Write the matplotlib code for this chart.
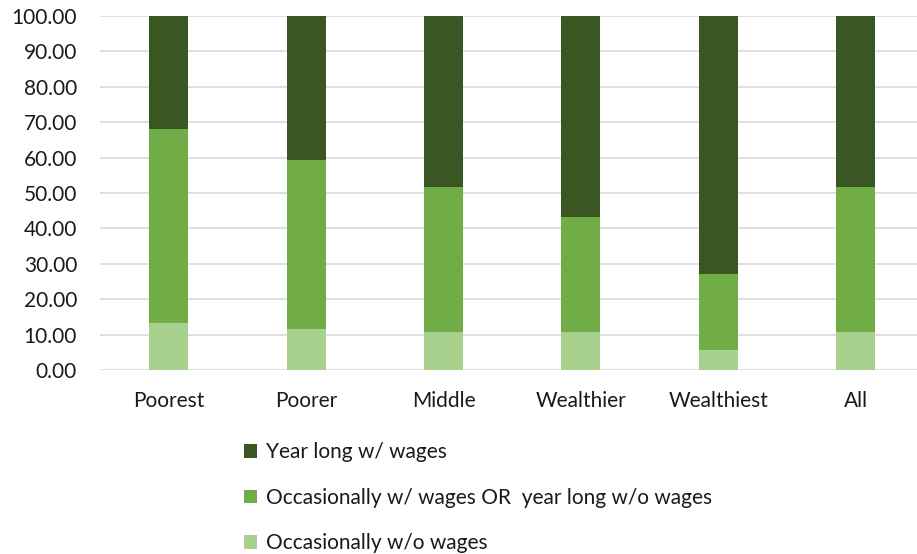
import matplotlib
matplotlib.use("Agg")
import matplotlib.pyplot as plt
import numpy as np

categories = ["Poorest", "Poorer", "Middle", "Wealthier", "Wealthiest", "All"]
occ_no_wages = [13.3, 11.7, 10.6, 10.6, 5.6, 10.6]
occ_wages_or_year_no = [54.7, 47.7, 41.0, 32.6, 21.4, 41.0]
year_long_wages = [32.0, 40.6, 48.4, 56.8, 73.0, 48.4]
labels = ["Occasionally w/o wages",
          "Occasionally w/ wages OR  year long w/o wages",
          "Year long w/ wages"]
colors = ["#A9D18E", "#70AD47", "#3A5723"]
yticks = [0, 10, 20, 30, 40, 50, 60, 70, 80, 90, 100]

plt.rcParams['font.family'] = ['Lato', 'DejaVu Sans']
txt = '#1a1a1a'
fs = 15

fig = plt.figure(figsize=(9.17, 5.54), dpi=100)
ax = fig.add_axes([100/917, (554-370)/554, 817/917, 354/554])

x = np.arange(len(categories))
w = 0.285
b1 = ax.bar(x, occ_no_wages, w, color=colors[0], label=labels[0], zorder=3)
bottom2 = np.array(occ_no_wages)
b2 = ax.bar(x, occ_wages_or_year_no, w, bottom=bottom2, color=colors[1], label=labels[1], zorder=3)
bottom3 = bottom2 + np.array(occ_wages_or_year_no)
b3 = ax.bar(x, year_long_wages, w, bottom=bottom3, color=colors[2], label=labels[2], zorder=3)

ax.set_xlim(-0.5, -0.5 + 817/137.4)
ax.set_ylim(0, 100)
ax.set_yticks(yticks)
ax.set_yticklabels([f"{v:.2f}" for v in yticks])
ax.yaxis.grid(True, color='#D9D9D9', linewidth=1.2, zorder=0)
ax.set_axisbelow(True)
for s in ax.spines.values():
    s.set_visible(False)
ax.tick_params(axis='both', length=0, labelsize=fs, colors=txt)
ax.tick_params(axis='y', pad=16.5)
ax.tick_params(axis='x', pad=15)
ax.set_xticks(x)
ax.set_xticklabels(categories)

leg = fig.legend(handles=[b3, b2, b1], labels=[labels[2], labels[1], labels[0]],
                 loc='upper left', bbox_to_anchor=(236/917, 1 - 434/554),
                 frameon=False, fontsize=fs, handlelength=0.62, handleheight=0.62,
                 handletextpad=0.4, labelspacing=1.22, borderaxespad=0)
for t in leg.get_texts():
    t.set_color(txt)

fig.savefig("out.png", dpi=100)
